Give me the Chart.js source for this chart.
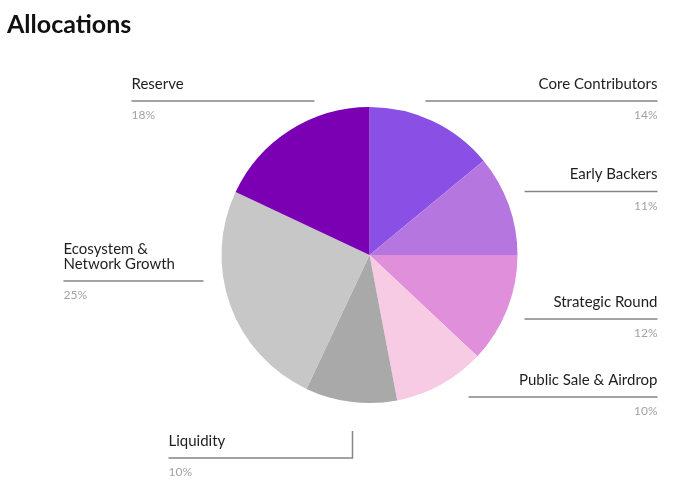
<!DOCTYPE html>
<html>
<head>
<meta charset="utf-8">
<script src="https://cdn.jsdelivr.net/npm/chart.js@4.4.1/dist/chart.umd.min.js"></script>
<style>
  html, body { margin: 0; padding: 0; background: #fff; }
  #wrap { width: 680px; height: 481px; position: relative; }
</style>
</head>
<body>
<div id="wrap"><canvas id="allocChart"></canvas></div>
<script>
// chart data
var categories = ['Core Contributors', 'Early Backers', 'Strategic Round', 'Public Sale & Airdrop',
                  'Liquidity', 'Ecosystem & Network Growth', 'Reserve'];
var allocations = [14, 11, 12, 10, 10, 25, 18];
var sliceColors = ['#8a50e6', '#b676e0', '#e08fdb', '#f8cbe5', '#a9a9a9', '#c7c7c7', '#7b00b4'];
var labelText = [['Core Contributors'], ['Early Backers'], ['Strategic Round'], ['Public Sale & Airdrop'],
                 ['Liquidity'], ['Ecosystem &', 'Network Growth'], ['Reserve']];

// where each callout sits, in px from the pie centre
var calloutLayout = [
  { side: 'right', x1: 56,   x2: 288,  y: -154 },
  { side: 'right', x1: 155,  x2: 288,  y: -63.5 },
  { side: 'right', x1: 155,  x2: 288,  y: 64 },
  { side: 'right', x1: 99,   x2: 288,  y: 142 },
  { side: 'left',  x1: -201, x2: -17,  y: 203, tick: 27 },
  { side: 'left',  x1: -306, x2: -166, y: 26 },
  { side: 'left',  x1: -238, x2: -55,  y: -154 }
];

var fontFamily = 'Lato, "Noto Sans", sans-serif';

var calloutPlugin = {
  id: 'callouts',
  afterDraw: function (chart) {
    var ctx = chart.ctx;
    var arc = chart.getDatasetMeta(0).data[0];
    var cx = arc.x, cy = arc.y;
    var total = allocations.reduce(function (a, b) { return a + b; }, 0);

    ctx.save();
    // title
    ctx.fillStyle = '#111';
    ctx.font = 'bold 25px ' + fontFamily;
    ctx.textAlign = 'left';
    ctx.textBaseline = 'alphabetic';
    ctx.fillText('Allocations', 7, 33);

    calloutLayout.forEach(function (c, i) {
      var x1 = cx + c.x1, x2 = cx + c.x2, y = cy + c.y;
      ctx.strokeStyle = '#858585';
      ctx.lineWidth = 1.5;
      ctx.beginPath();
      if (c.tick) {
        ctx.moveTo(x2, y - c.tick);
        ctx.lineTo(x2, y);
      } else {
        ctx.moveTo(x2, y);
      }
      ctx.lineTo(x1, y);
      ctx.stroke();

      var tx = c.side === 'right' ? x2 : x1;
      ctx.textAlign = c.side === 'right' ? 'right' : 'left';
      ctx.textBaseline = 'middle';
      ctx.fillStyle = '#1e1e1e';
      ctx.font = '15px ' + fontFamily;
      var lines = labelText[i];
      for (var k = 0; k < lines.length; k++) {
        ctx.fillText(lines[k], tx, y - 17 - (lines.length - 1 - k) * 15);
      }
      ctx.fillStyle = '#a3a3a3';
      ctx.font = '12px ' + fontFamily;
      ctx.fillText(Math.round(allocations[i] / total * 100) + '%', tx, y + 14.5);
    });
    ctx.restore();
  }
};

var ctx = document.getElementById('allocChart');
var allocChart = new Chart(ctx, {
  type: 'pie',
  data: {
    labels: categories,
    datasets: [{
      data: allocations,
      backgroundColor: sliceColors,
      borderWidth: 0,
      hoverOffset: 0,
      offset: 0
    }]
  },
  options: {
    responsive: true,
    maintainAspectRatio: false,
    animation: false,
    events: [],
    layout: { padding: { top: 107, bottom: 78, left: 59, right: 0 } },
    plugins: {
      legend: { display: false },
      tooltip: { enabled: false }
    }
  },
  plugins: [calloutPlugin]
});
</script>
</body>
</html>
